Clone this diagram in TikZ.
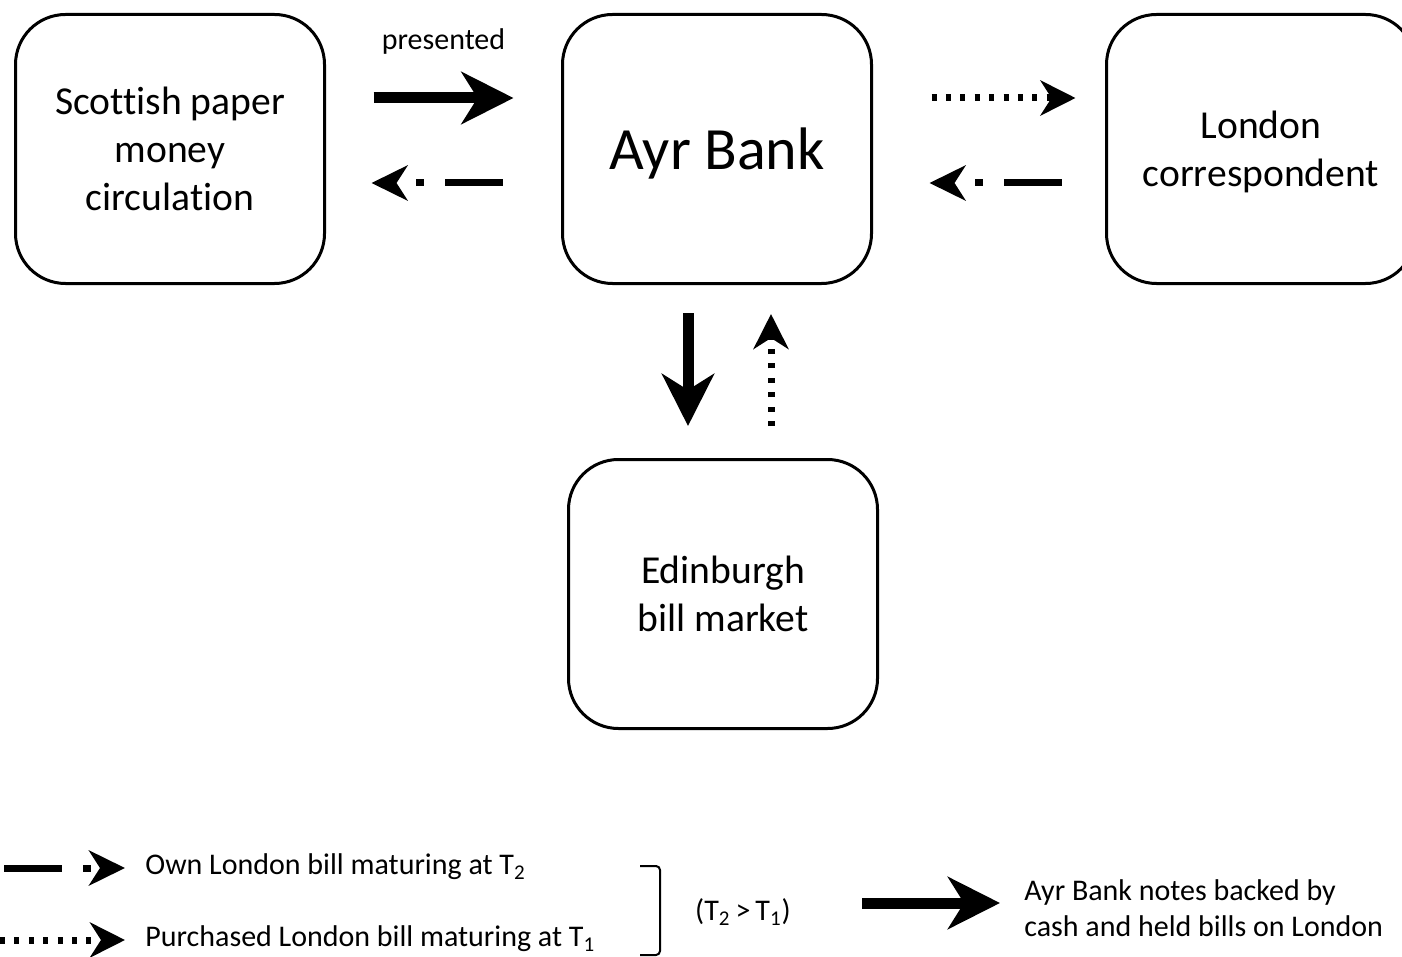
\documentclass[tikz,border=0pt]{standalone}
\usepackage{fontspec}
\setmainfont{Carlito}[Ligatures=NoCommon]
\usepackage{tikz}
\usetikzlibrary{arrows.meta}
\usetikzlibrary{positioning,calc}
\tikzset{>=stealth}
\tikzstyle{bank} = [draw, 
rounded corners=25pt, 
line width=1.5pt, 
minimum width=154.5pt, 
minimum height=134.5pt, 
align=center, text depth=0pt,
font=\fontsize{19.8}{24}\selectfont]
\tikzstyle{solidflow} = [draw, 
line width=5.5pt, 
-{Stealth[length=26pt,width=26pt,inset=8pt]}]
\tikzstyle{dotflow} = [draw, 
line width=3.5pt, 
dash pattern=on 2.5pt off 4.7pt, 
-{Stealth[length=17.5pt,width=17.5pt,inset=5.5pt]}]
\tikzstyle{dashdotflow} = [draw, 
line width=3.5pt, 
dash pattern=on 29pt off 10.5pt on 4pt off 12pt, 
-{Stealth[length=18pt,width=17.5pt,inset=5.5pt]}]

\begin{document}
\begin{tikzpicture}[x=0.5pt, y=-0.5pt,
	legend/.style={inner sep=0pt, align=left,
		font=\fontsize{15}{18}\selectfont}]
	\useasboundingbox (0,0) rectangle (1402,957);
	\node [bank] (scot) at (170,149) {Scottish paper\\money\\circulation};
	\node [bank, font=\fontsize{30}{36}\selectfont] (ayr) at (717,149) {Ayr Bank};
	\node [bank] (london) at (1261,149) {London\\correspondent};
	\node [bank] (edin) at (723,594) {Edinburgh\\bill market};
	%% Flows between the banks
	\path [solidflow, shorten <=23.75pt, shorten >=23.75pt] ([yshift=25.5pt]scot.east) to node [midway, yshift=28pt, legend] (presented) {presented} ([yshift=25.5pt]ayr.west);
	\path [dashdotflow, shorten <=29.25pt, shorten >=22.75pt] ([yshift=-17pt]ayr.west) to ([yshift=-17pt]scot.east);
	\path [dotflow, shorten <=29.25pt, shorten >=14.75pt] ([yshift=25.5pt]ayr.east) to ([yshift=25.5pt]london.west);
	\path [dashdotflow, shorten <=21.75pt, shorten >=28.25pt] ([yshift=-17pt]london.west) to ([yshift=-17pt]ayr.east);
	\path [solidflow, shorten <=14pt, shorten >=16pt] ([xshift=-14.5pt]ayr.south) to ([xshift=-14.5pt]ayr.south |- edin.north);
	\path [dotflow, shorten <=16pt, shorten >=14.5pt] ([xshift=27pt]ayr.south |- edin.north) to ([xshift=27pt]ayr.south);
	%% Legend
	\coordinate (k1) at (4,868);
	\coordinate (k2) at (0,940);
	\coordinate (k3) at (862,903);
	\node [legend, anchor=west] (own) at (145,867) {Own London bill maturing at T\textsubscript{2}};
	\node [legend, anchor=west] (bought) at (145,939) {Purchased London bill maturing at T\textsubscript{1}};
	\node [legend] (ratio) at (743,912) {(T\textsubscript{2}\,>\,T\textsubscript{1})};
	\node [legend, anchor=west] (notes) at (1024,908) {Ayr Bank notes backed by\\cash and held bills on London};
	\path [dashdotflow, shorten >=10pt] (k1) to (k1 -| own.west);
	\path [dotflow, shorten >=10pt] (k2) to (k2 -| bought.west);
	\path [solidflow, shorten >=12pt] (k3) to (k3 -| notes.west);
	\draw [line width=1pt, rounded corners=2pt] (640,866) -- (660,866) -- (660,955) -- (640,955);
\end{tikzpicture}
\end{document}
